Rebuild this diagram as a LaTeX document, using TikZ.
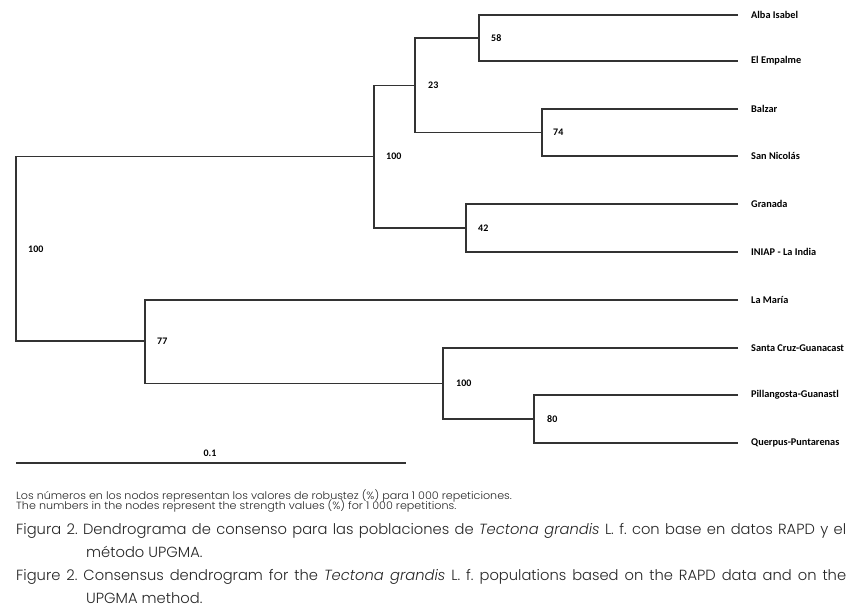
\documentclass[tikz,border=0pt]{standalone}
\usepackage{fontspec}
\setmainfont{Carlito}
\newfontfamily\capfont{Poppins}[UprightFont=* Light, ItalicFont=* Light Italic]
\newfontfamily\notefont{Poppins}[UprightFont=* Light, FakeStretch=1.06]
\frenchspacing
\begin{document}
\begin{tikzpicture}[x=1pt,y=-1pt,
  br/.style={draw=black!80, line width=1.1pt},
  leaf/.style={anchor=west, inner sep=0pt, font=\bfseries\fontsize{10.3}{12}\selectfont},
  boot/.style={anchor=west, inner sep=0pt, font=\bfseries\fontsize{10}{12}\selectfont},
  captxt/.style={anchor=base west, inner sep=0pt, text=black!85, font=\capfont\fontsize{14.7}{17}\selectfont},
  notetxt/.style={anchor=base west, inner sep=0pt, text=black!85, font=\notefont\fontsize{10.5}{12}\selectfont}]
\useasboundingbox (0,0) rectangle (855,616);
\fill[white] (0,0) rectangle (855,616);
% leaves
\coordinate (tA) at (738,15);    \node[leaf] (lA) at (751,15)    {Alba Isabel};
\coordinate (tB) at (738,61);    \node[leaf] (lB) at (751,61)    {El Empalme};
\coordinate (tC) at (738,109);   \node[leaf] (lC) at (751,109)   {Balzar};
\coordinate (tD) at (738,156);   \node[leaf] (lD) at (751,156)   {San Nicolás};
\coordinate (tE) at (738,204);   \node[leaf] (lE) at (751,204)   {Granada};
\coordinate (tF) at (738,252);   \node[leaf] (lF) at (751,252)   {INIAP - La India};
\coordinate (tG) at (738,300);   \node[leaf] (lG) at (751,300)   {La María};
\coordinate (tH) at (738,348);   \node[leaf] (lH) at (751,348)   {Santa Cruz-Guanacast};
\coordinate (tI) at (738,395);   \node[leaf] (lI) at (751,395)   {Pillangosta-Guanastl};
\coordinate (tJ) at (738,443);   \node[leaf] (lJ) at (751,443)   {Querpus-Puntarenas};
% internal nodes
\coordinate (n58) at (479,38);
\coordinate (n74) at (542,132.5);
\coordinate (n23) at (415,85.5);
\coordinate (n42) at (466,228);
\coordinate (nU) at (374,156.5);
\coordinate (n80) at (534,419);
\coordinate (nB) at (443,383.5);
\coordinate (n77) at (145,341);
\coordinate (nR) at (16,249);
% branches
\draw[br] (tA) -| (n58) |- (tB);
\draw[br] (tC) -| (n74) |- (tD);
\draw[br] (n58) -| (n23) |- (n74);
\draw[br] (tE) -| (n42) |- (tF);
\draw[br] (n23) -| (nU) |- (n42);
\draw[br] (tI) -| (n80) |- (tJ);
\draw[br] (tH) -| (nB) |- (n80);
\draw[br] (tG) -| (n77) |- (nB);
\draw[br] (nU) -| (nR) |- (n77);
% support values
\node[boot] (b58) at ([xshift=12pt]n58) {58};
\node[boot] (b74) at ([xshift=11pt]n74) {74};
\node[boot] (b23) at ([xshift=13pt]n23) {23};
\node[boot] (b42) at ([xshift=12pt]n42) {42};
\node[boot] (bU) at ([xshift=12pt]nU) {100};
\node[boot] (b80) at ([xshift=13pt]n80) {80};
\node[boot] (bB) at ([xshift=13pt]nB) {100};
\node[boot] (b77) at ([xshift=12pt]n77) {77};
\node[boot] (bR) at ([xshift=12pt]nR) {100};
% scale bar
\coordinate (s0) at (16,463);
\coordinate (s1) at (406,463);
\draw[br] (s0) -- (s1);
\node[boot, anchor=center] (sl) at (210,453) {0.1};
% captions
\node[notetxt] (m1) at (16,499) {Los números en los nodos representan los valores de robustez (\%) para 1 000 repeticiones.};
\node[notetxt] (m2) at (16,509.7) {The numbers in the nodes represent the strength values (\%) for 1 000 repetitions.};
\node[captxt] (c1) at (16,534) {\makebox[830pt][s]{Figura 2. Dendrograma de consenso para las poblaciones de \textit{Tectona grandis} L. f. con base en datos RAPD y el}};
\node[captxt] (c2) at (86,557) {método UPGMA.};
\node[captxt] (c3) at (16,580) {\makebox[830pt][s]{Figure 2. Consensus dendrogram for the \textit{Tectona grandis} L. f. populations based on the RAPD data and on the}};
\node[captxt] (c4) at (86,603) {UPGMA method.};
\end{tikzpicture}
\end{document}
